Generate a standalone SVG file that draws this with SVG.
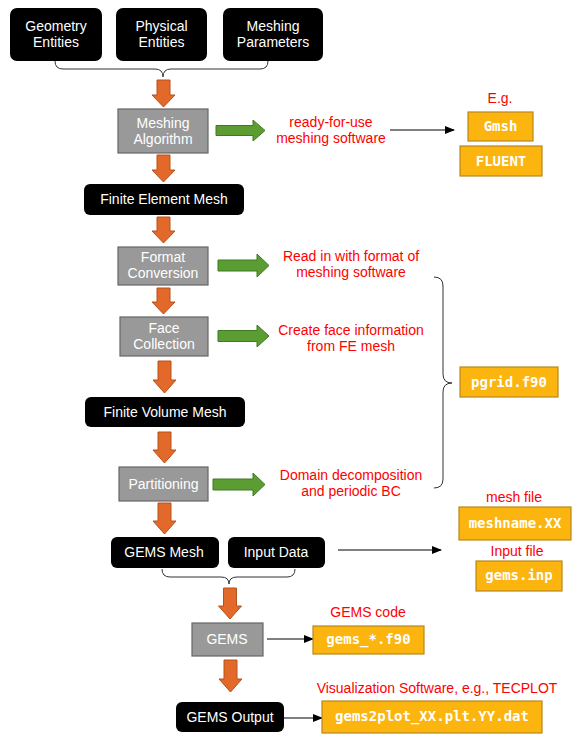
<svg xmlns="http://www.w3.org/2000/svg" width="581" height="746" viewBox="0 0 581 746">
<defs>
<style>
.blk{fill:#000;}
.gry{fill:#999;stroke:#666;stroke-width:1.2;}
.org{fill:#FCB40F;stroke:#B8861C;stroke-width:1.2;}
.wt{fill:#fff;font-family:"Liberation Sans",Arial,sans-serif;font-size:14px;text-anchor:middle;}
.mono{fill:#fff;font-family:"DejaVu Sans Mono","Liberation Mono",monospace;font-size:14px;font-weight:bold;text-anchor:middle;}
.red{fill:#FF0000;font-family:"Liberation Sans",Arial,sans-serif;font-size:14px;text-anchor:middle;}
.oa{fill:#E3692A;stroke:#B4521C;stroke-width:1;}
.ga{fill:#5B9C33;stroke:#3E7A22;stroke-width:1;}
.brace{fill:none;stroke:#333;stroke-width:1;}
.ln{fill:none;stroke:#000;stroke-width:1.2;}
</style>
<marker id="ah" markerWidth="10" markerHeight="8" refX="9" refY="4" orient="auto" markerUnits="userSpaceOnUse">
<path d="M0,0 L10,4 L0,8 Z" fill="#000"/>
</marker>
</defs>
<rect width="581" height="746" fill="#fff"/>

<g id="connectors">
<!-- braces -->
<path class="brace" d="M55,61 Q55,69 63,69 L155,69 Q163,69 163,77 Q163,69 171,69 L260,69 Q268,69 268,61"/>
<path class="brace" d="M434,277 Q443,277 443,286 L443,374 Q443,383 452,383 Q443,383 443,392 L443,479 Q443,488 434,488"/>
<path class="brace" d="M162,569 Q162,577 170,577 L221,577 Q229,577 229,584 Q229,577 237,577 L287,577 Q295,577 295,569"/>
<!-- orange block arrows -->
<path class="oa" d="M157,80 L170,80 L170,95 L175,95 L163.5,107 L152,95 L157,95 Z"/>
<path class="oa" d="M157,155 L170,155 L170,170 L175,170 L163.5,182 L152,170 L157,170 Z"/>
<path class="oa" d="M157,217 L170,217 L170,231 L175,231 L163.5,243 L152,231 L157,231 Z"/>
<path class="oa" d="M157,288 L170,288 L170,302 L175,302 L163.5,314 L152,302 L157,302 Z"/>
<path class="oa" d="M158,361 L171,361 L171,380 L176,380 L164.5,393 L153,380 L158,380 Z"/>
<path class="oa" d="M158,432 L171,432 L171,450 L176,450 L164.5,463 L153,450 L158,450 Z"/>
<path class="oa" d="M158,503 L171,503 L171,521 L176,521 L164.5,534 L153,521 L158,521 Z"/>
<path class="oa" d="M223.5,588 L236.5,588 L236.5,606 L241.5,606 L230,619 L218.5,606 L223.5,606 Z"/>
<path class="oa" d="M224,660 L237,660 L237,679 L242,679 L230.5,692 L219,679 L224,679 Z"/>
<!-- green block arrows -->
<path class="ga" d="M216,125.5 L253,125.5 L253,120 L265,130.5 L253,141 L253,135.5 L216,135.5 Z"/>
<path class="ga" d="M218,260 L257,260 L257,254 L269,265.5 L257,277 L257,271 L218,271 Z"/>
<path class="ga" d="M218,330.5 L257,330.5 L257,325 L269,336 L257,347 L257,341.5 L218,341.5 Z"/>
<path class="ga" d="M213,479 L253,479 L253,473 L265,484.5 L253,496 L253,490 L213,490 Z"/>
<!-- thin arrows -->
<line class="ln" x1="390" y1="130" x2="454" y2="130" marker-end="url(#ah)"/>
<line class="ln" x1="338" y1="550" x2="441" y2="550" marker-end="url(#ah)"/>
<line class="ln" x1="267" y1="639" x2="313" y2="639" marker-end="url(#ah)"/>
<line class="ln" x1="284" y1="718" x2="322" y2="718" marker-end="url(#ah)"/>
</g>

<g id="geometry-entities">
<rect class="blk" x="10" y="8" width="92" height="53" rx="7"/>
<text class="wt" x="56" y="31">Geometry</text>
<text class="wt" x="56" y="47">Entities</text>
</g>
<g id="physical-entities">
<rect class="blk" x="116" y="8" width="91" height="53" rx="7"/>
<text class="wt" x="161.5" y="31">Physical</text>
<text class="wt" x="161.5" y="47">Entities</text>
</g>
<g id="meshing-parameters">
<rect class="blk" x="223" y="8" width="100" height="53" rx="7"/>
<text class="wt" x="273" y="31">Meshing</text>
<text class="wt" x="273" y="47">Parameters</text>
</g>

<g id="meshing-algorithm">
<rect class="gry" x="118" y="109" width="90" height="44"/>
<text class="wt" x="163" y="128">Meshing</text>
<text class="wt" x="163" y="144">Algorithm</text>
</g>
<g id="ready-label">
<text class="red" x="331" y="127">ready-for-use</text>
<text class="red" x="331" y="143">meshing software</text>
</g>
<g id="eg-label"><text class="red" x="500" y="103">E.g.</text></g>
<g id="gmsh">
<rect class="org" x="468" y="112" width="65" height="29"/>
<text class="mono" x="500.5" y="131">Gmsh</text>
</g>
<g id="fluent">
<rect class="org" x="460" y="146" width="82" height="30"/>
<text class="mono" x="501" y="166">FLUENT</text>
</g>

<g id="finite-element-mesh">
<rect class="blk" x="84" y="184" width="160" height="31" rx="6"/>
<text class="wt" x="164" y="204">Finite Element Mesh</text>
</g>

<g id="format-conversion">
<rect class="gry" x="118" y="247" width="90" height="38"/>
<text class="wt" x="163" y="262">Format</text>
<text class="wt" x="163" y="278">Conversion</text>
</g>
<g id="read-label">
<text class="red" x="351" y="261">Read in with format of</text>
<text class="red" x="351" y="277">meshing software</text>
</g>

<g id="face-collection">
<rect class="gry" x="120" y="317" width="88" height="39"/>
<text class="wt" x="164" y="333">Face</text>
<text class="wt" x="164" y="349">Collection</text>
</g>
<g id="create-label">
<text class="red" x="351" y="335">Create face information</text>
<text class="red" x="351" y="351">from FE mesh</text>
</g>

<g id="pgrid">
<rect class="org" x="460" y="367" width="98" height="30"/>
<text class="mono" x="509" y="387">pgrid.f90</text>
</g>

<g id="finite-volume-mesh">
<rect class="blk" x="85" y="397" width="160" height="30" rx="6"/>
<text class="wt" x="165" y="417">Finite Volume Mesh</text>
</g>

<g id="partitioning">
<rect class="gry" x="119" y="467" width="89" height="34"/>
<text class="wt" x="163.5" y="489">Partitioning</text>
</g>
<g id="domain-label">
<text class="red" x="351" y="480">Domain decomposition</text>
<text class="red" x="351" y="496">and periodic BC</text>
</g>

<g id="mesh-file-label"><text class="red" x="514" y="502">mesh file</text></g>
<g id="meshname">
<rect class="org" x="459" y="507" width="112" height="33"/>
<text class="mono" x="515" y="528">meshname.XX</text>
</g>
<g id="input-file-label"><text class="red" x="517" y="556">Input file</text></g>
<g id="gems-inp">
<rect class="org" x="476" y="561" width="86" height="30"/>
<text class="mono" x="519" y="580">gems.inp</text>
</g>

<g id="gems-mesh">
<rect class="blk" x="111" y="537" width="108" height="31" rx="6"/>
<text class="wt" x="164" y="557">GEMS Mesh</text>
</g>
<g id="input-data">
<rect class="blk" x="228" y="537" width="97" height="31" rx="6"/>
<text class="wt" x="276" y="557">Input Data</text>
</g>

<g id="gems">
<rect class="gry" x="192" y="623" width="71" height="33"/>
<text class="wt" x="227" y="644">GEMS</text>
</g>
<g id="gems-code-label"><text class="red" x="368" y="617">GEMS code</text></g>
<g id="gems-f90">
<rect class="org" x="313" y="626" width="111" height="28"/>
<text class="mono" x="368.5" y="644">gems_*.f90</text>
</g>

<g id="gems-output">
<rect class="blk" x="176" y="702" width="108" height="30" rx="6"/>
<text class="wt" x="230" y="722">GEMS Output</text>
</g>
<g id="vis-label"><text class="red" x="437" y="693">Visualization Software, e.g., TECPLOT</text></g>
<g id="gems2plot">
<rect class="org" x="322" y="701" width="220" height="32"/>
<text class="mono" x="432" y="721">gems2plot_XX.plt.YY.dat</text>
</g>
</svg>
